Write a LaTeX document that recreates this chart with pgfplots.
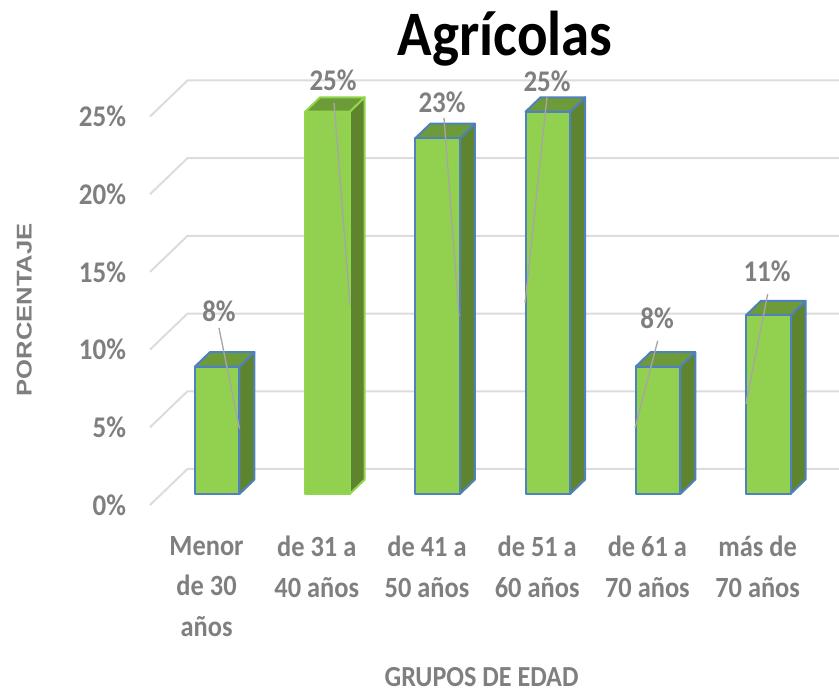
\documentclass[border=0pt]{standalone}
\usepackage{fontspec}
\setmainfont[FakeStretch=0.9]{Carlito}
\newfontfamily\labelsans[FakeStretch=1.2]{Liberation Sans}
\usepackage{pgfplots}
\pgfplotsset{compat=1.18}
\definecolor{txtgray}{HTML}{7F7F7F}
\definecolor{gridgray}{HTML}{DCDCDC}
\definecolor{front}{HTML}{92D050}
\definecolor{side}{HTML}{5F8430}
\definecolor{topf}{HTML}{6E9B3A}
\definecolor{edge}{HTML}{4F81BD}
\definecolor{edgeb}{HTML}{8FD64A}
\definecolor{leader}{HTML}{A6A6A6}
\tikzset{dlabel/.style={font=\fontsize{22.5}{24}\selectfont\bfseries,text=txtgray}}
\pgfplotsset{
  grid3d/.style={gridgray,line width=1.5pt,no markers,line join=miter},
  face/.style={draw=#1,line width=1.5pt,line join=round,no markers},
  lead/.style={leader,line width=1pt,no markers},
}
\begin{document}
\begin{tikzpicture}
\useasboundingbox (0,0) rectangle (629.25pt,519.75pt);
\begin{axis}[
  at={(0,0)}, anchor=south west,
  scale only axis, width=629.25pt, height=519.75pt,
  xmin=-1.971, xmax=5.642, ymin=-12.806, ymax=31.789,
  axis line style={draw=none}, major tick length=0pt,
  clip=false,
  xtick={0,1,2,3,4,5},
  xticklabels={{Menor\\de 30\\años},{de 31 a\\40 años},{de 41 a\\50 años},{de 51 a\\60 años},{de 61 a\\70 años},{más de\\70 años}},
  xticklabel style={align=center,anchor=north,xshift=-8pt,yshift=121pt,
    font=\fontsize{22}{30.4}\selectfont\bfseries,text=txtgray},
  ytick={-0.71,4.29,9.29,14.29,19.29,24.29},
  yticklabels={0\%,5\%,10\%,15\%,20\%,25\%},
  yticklabel style={anchor=east,xshift=98pt,
    font=\fontsize{22.5}{24}\selectfont\bfseries,text=txtgray},
  title={Agrícolas},
  title style={at={(axis description cs:0.602,0.932)},anchor=center,
    font=\fontsize{47.5}{50}\selectfont\bfseries,text=black},
  xlabel={GRUPOS DE EDAD},
  xlabel style={at={(axis description cs:0.574,0.023)},anchor=center,
    font=\fontsize{21.8}{24}\selectfont\bfseries,text=txtgray},
  ylabel={PORCENTAJE},
  ylabel style={at={(axis description cs:0.029,0.553)},anchor=center,
    font=\labelsans\fontsize{16}{18}\selectfont\bfseries,text=txtgray},
]
% back wall and side wall gridlines
\addplot[grid3d] coordinates {(-0.610,-0.71) (-0.270,1.61) (5.642,1.61)};
\addplot[grid3d] coordinates {(-0.610,4.29) (-0.270,6.61) (5.642,6.61)};
\addplot[grid3d] coordinates {(-0.610,9.29) (-0.270,11.61) (5.642,11.61)};
\addplot[grid3d] coordinates {(-0.610,14.29) (-0.270,16.61) (5.642,16.61)};
\addplot[grid3d] coordinates {(-0.610,19.29) (-0.270,21.61) (5.642,21.61)};
\addplot[grid3d] coordinates {(-0.610,24.29) (-0.270,26.61) (5.642,26.61)};

% side faces
\addplot[face=edge,fill=side] coordinates {(0.202,0) (0.338,0.93) (0.338,9.13) (0.202,8.2)} --cycle;
\addplot[face=edgeb,fill=side] coordinates {(1.202,0) (1.338,0.93) (1.338,25.53) (1.202,24.6)} --cycle;
\addplot[face=edge,fill=side] coordinates {(2.202,0) (2.338,0.93) (2.338,23.83) (2.202,22.9)} --cycle;
\addplot[face=edge,fill=side] coordinates {(3.202,0) (3.338,0.93) (3.338,25.53) (3.202,24.6)} --cycle;
\addplot[face=edge,fill=side] coordinates {(4.202,0) (4.338,0.93) (4.338,9.13) (4.202,8.2)} --cycle;
\addplot[face=edge,fill=side] coordinates {(5.202,0) (5.338,0.93) (5.338,12.43) (5.202,11.5)} --cycle;

% top faces
\addplot[face=edge,fill=topf] coordinates {(-0.202,8.2) (-0.066,9.13) (0.338,9.13) (0.202,8.2)} --cycle;
\addplot[face=edgeb,fill=topf] coordinates {(0.798,24.6) (0.934,25.53) (1.338,25.53) (1.202,24.6)} --cycle;
\addplot[face=edge,fill=topf] coordinates {(1.798,22.9) (1.934,23.83) (2.338,23.83) (2.202,22.9)} --cycle;
\addplot[face=edge,fill=topf] coordinates {(2.798,24.6) (2.934,25.53) (3.338,25.53) (3.202,24.6)} --cycle;
\addplot[face=edge,fill=topf] coordinates {(3.798,8.2) (3.934,9.13) (4.338,9.13) (4.202,8.2)} --cycle;
\addplot[face=edge,fill=topf] coordinates {(4.798,11.5) (4.934,12.43) (5.338,12.43) (5.202,11.5)} --cycle;

% front faces, the values
\addplot[ybar,bar width=0.404,face=edge,fill=front] coordinates {(0,8.2) (2,22.9) (3,24.6) (4,8.2) (5,11.5)};
\addplot[ybar,bar width=0.404,face=edgeb,fill=front] coordinates {(1,24.6)};

% leader lines of the data labels
\addplot[lead] coordinates {(0.016,10.68) (0.203,4.18)};
\addplot[lead] coordinates {(1.060,25.16) (1.205,12.16)};
\addplot[lead] coordinates {(2.058,24.2) (2.194,11.45)};
\addplot[lead] coordinates {(2.993,25.6) (2.793,12.29)};
\addplot[lead] coordinates {(3.997,9.86) (3.791,4.25)};
\addplot[lead] coordinates {(4.995,12.87) (4.796,5.79)};

\node[dlabel] at (axis cs:0.016,11.78) {8\%};
\node[dlabel] at (axis cs:1.051,26.64) {25\%};
\node[dlabel] at (axis cs:2.040,25.23) {23\%};
\node[dlabel] at (axis cs:2.993,26.58) {25\%};
\node[dlabel] at (axis cs:3.991,11.33) {8\%};
\node[dlabel] at (axis cs:4.989,14.35) {11\%};
\end{axis}
\end{tikzpicture}
\end{document}
